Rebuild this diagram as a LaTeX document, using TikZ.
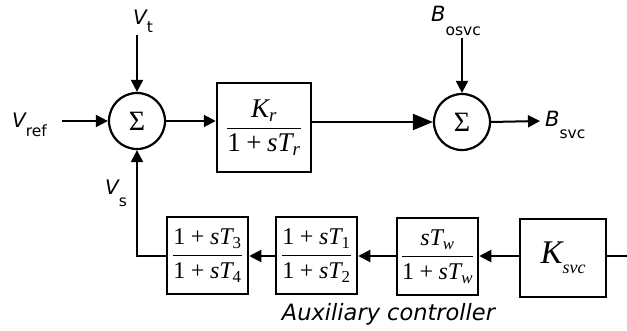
\documentclass[tikz,border=0pt]{standalone}
\usepackage{amsmath}
\usepackage{fontspec}
\setmainfont{DejaVu Sans}
\newfontfamily\tms{Liberation Serif}
\usetikzlibrary{arrows.meta}
\newcommand\ti[1]{\text{\tms\itshape #1}}
\newcommand\tu[1]{\text{\tms #1}}
\newcommand\tplus{\mathbin{\tu{+}}}
\tikzset{
  sumc/.style={circle, draw, line width=2.2pt, minimum size=56pt, inner sep=0pt, font=\fontsize{28}{28}\selectfont\tms},
  blk/.style={draw, line width=2.5pt, inner sep=0pt},
  ln/.style={line width=2pt},
  arr/.style={ln, -{Triangle[length=12pt,width=12pt]}},
  bigarr/.style={ln, -{Triangle[length=20pt,width=16pt]}},
  lbl/.style={anchor=base west, inner sep=0pt, font=\fontsize{20}{20}\selectfont},
}
\newcommand\sub[2]{\raisebox{#1}{\fontsize{15.5}{15.5}\selectfont\upshape #2}}
\begin{document}
\begin{tikzpicture}[x=1pt,y=-1pt]
\useasboundingbox (0,0) rectangle (627,331);
% top row
\node[sumc] (s1) at (137,121) {Σ};
\node[blk, minimum width=94pt, minimum height=89pt,
      font=\fontsize{27}{27}\selectfont] (b1) at (264,127.5)
  {$\dfrac{\ti{K}_{\ti{r}}}{\tu{1}\tplus\ti{s}\ti{T}_{\ti{r}}}$};
\node[sumc] (s2) at (462,122) {Σ};
% labels
\node[lbl] (vt) at (133,25) {\itshape V\sub{-8pt}{t}};
\node[lbl] (vref) at (12,128) {\itshape V\sub{-9pt}{ref}};
\node[lbl] (vs) at (105,195) {\itshape V\sub{-12pt}{s}};
\node[lbl, font=\fontsize{21}{21}\selectfont] (bo) at (431,22) {\itshape B\sub{-14pt}{osvc}};
\node[lbl, font=\fontsize{21}{21}\selectfont] (bs) at (545,127) {\itshape B\sub{-12pt}{svc}};
\coordinate (vtin) at (137,35);
\coordinate (vrefin) at (62,121);
\coordinate (boin) at (462,38);
\coordinate (bsout) at (540,121);
% bottom row
\node[blk, minimum width=81pt, minimum height=77pt,
      font=\fontsize{24}{24}\selectfont] (b34) at (207.5,255.5)
  {$\dfrac{\tu{1}\tplus\ti{s}\ti{T}_{\tu{3}}}{\tu{1}\tplus\ti{s}\ti{T}_{\tu{4}}}$};
\node[blk, minimum width=81pt, minimum height=77pt,
      font=\fontsize{24}{24}\selectfont] (b12) at (316.5,255.5)
  {$\dfrac{\tu{1}\tplus\ti{s}\ti{T}_{\tu{1}}}{\tu{1}\tplus\ti{s}\ti{T}_{\tu{2}}}$};
\node[blk, minimum width=81pt, minimum height=77pt,
      font=\fontsize{24}{24}\selectfont] (bw) at (437.5,256.5)
  {$\dfrac{\ti{s}\ti{T}_{\ti{w}}}{\tu{1}\tplus\ti{s}\ti{T}_{\ti{w}}}$};
\node[blk, minimum width=86pt, minimum height=78pt,
      font=\fontsize{33}{33}\selectfont\tms\itshape] (bk) at (563,258)
  {K\raisebox{-10pt}{\fontsize{18}{18}\selectfont svc}};
\node[anchor=base, inner sep=0pt, font=\fontsize{22.5}{22.5}\selectfont\itshape] (aux) at (388.5,320) {Auxiliary controller};
\coordinate (kin) at (627,256);
\coordinate (corner) at (137,256);
% connectors
\draw[arr] (vtin) -- (s1.north);
\draw[arr] (vrefin) -- (s1.west);
\draw[arr] (s1.east) -- (s1.east -| b1.west);
\draw[bigarr] (b1.east |- s2.west) -- (s2.west);
\draw[arr] (boin) -- (s2.north);
\draw[arr] (s2.east) -- (bsout);
\draw[ln] (kin) -- (kin -| bk.east);
\draw[arr] (kin -| bk.west) -- (kin -| bw.east);
\draw[arr] (kin -| bw.west) -- (kin -| b12.east);
\draw[arr] (kin -| b12.west) -- (kin -| b34.east);
\draw[arr] (kin -| b34.west) -- (corner) -- (s1.south);
\end{tikzpicture}
\end{document}
